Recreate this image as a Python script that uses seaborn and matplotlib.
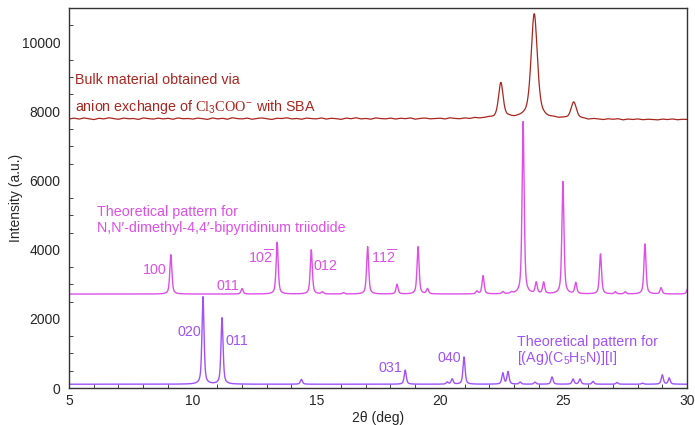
import numpy as np
import pandas as pd
import matplotlib
matplotlib.use("Agg")
import matplotlib.pyplot as plt
import seaborn as sns
from matplotlib.ticker import MultipleLocator

# %% data
# bulk sample: baseline read every 0.2 deg, peaks (pos, height, fwhm)
bulk_base_x = np.linspace(5.0, 30.0, 126)
bulk_base_y = [7790, 7815, 7785, 7820, 7795, 7770, 7810, 7790, 7825, 7800,
               7780, 7815, 7795, 7805, 7775, 7820, 7800, 7785, 7815, 7790,
               7810, 7780, 7820, 7795, 7805,
               7785, 7815, 7800, 7775, 7820, 7790, 7810, 7780, 7825, 7800,
               7790, 7815, 7780, 7805, 7820, 7795, 7775, 7810, 7800, 7825,
               7790, 7805, 7780, 7815, 7800,
               7790, 7820, 7785, 7810, 7800, 7775, 7815, 7795, 7825, 7790,
               7805, 7780, 7820, 7800, 7790, 7815, 7785, 7810, 7795, 7820,
               7780, 7805, 7815, 7790, 7800,
               7810, 7785, 7820, 7800, 7790, 7815, 7795, 7825, 7805, 7815,
               7830, 7810, 7835, 7820, 7840, 7815, 7830, 7845, 7820, 7835,
               7810, 7825, 7800, 7815, 7795,
               7805, 7790, 7815, 7780, 7800, 7770, 7795, 7785, 7765, 7790,
               7775, 7795, 7760, 7785, 7770, 7790, 7765, 7780, 7775, 7760,
               7785, 7770, 7790, 7765, 7780,
               7775]
bulk_pos = [22.47, 23.82, 25.42]
bulk_h = [1000, 3000, 460]
bulk_w = [0.22, 0.30, 0.26]

# N,N'-dimethyl-4,4'-bipyridinium triiodide (simulated)
dmbp_base = 2720
dmbp_pos = [9.12, 12.0, 13.42, 14.8, 15.25, 16.1, 17.08, 18.27, 19.12, 19.5,
            21.5, 21.75, 22.55, 22.9, 23.37, 23.9, 24.2, 24.98, 25.5, 26.5,
            27.1, 27.5, 28.3, 28.95, 30.05]
dmbp_h = [1140, 160, 1500, 1280, 60, 40, 1370, 280, 1370, 150,
          80, 530, 60, 40, 4990, 320, 330, 3250, 320, 1160,
          60, 60, 1450, 180, 260]

# [(Ag)(C5H5N)][I] (simulated)
ag_base = 110
ag_pos = [10.42, 11.19, 14.4, 18.6, 20.3, 20.5, 20.98, 22.55, 22.76, 23.25,
          23.85, 24.54, 25.39, 25.67, 26.2, 27.17, 28.2, 29.0, 29.28]
ag_h = [2530, 1920, 140, 410, 60, 150, 790, 320, 360, 60,
        60, 210, 150, 150, 80, 50, 30, 270, 180]

c_bulk = "#A8261F"
c_dmbp = "#DE4FE8"
c_ag = "#A052F8"


def pv(x, pos, h, w, eta):
    # pseudo-voigt peak shape
    g = np.exp(-4 * np.log(2) * (x - pos) ** 2 / w ** 2)
    l = 1 / (1 + 4 * (x - pos) ** 2 / w ** 2)
    return h * (eta * l + (1 - eta) * g)


x = np.linspace(5, 30, 5001)
y_bulk = np.interp(x, bulk_base_x, bulk_base_y)
for p, h, w in zip(bulk_pos, bulk_h, bulk_w):
    y_bulk = y_bulk + pv(x, p, h, w, 0.5)
y_dmbp = np.full_like(x, dmbp_base, dtype=float)
for p, h in zip(dmbp_pos, dmbp_h):
    y_dmbp = y_dmbp + pv(x, p, h, 0.1, 0.6)
y_ag = np.full_like(x, ag_base, dtype=float)
for p, h in zip(ag_pos, ag_h):
    y_ag = y_ag + pv(x, p, h, 0.1, 0.6)

veri = pd.DataFrame({"x": x, "bulk": y_bulk, "dmbp": y_dmbp, "ag": y_ag})

# %% figure
sns.set_style("white")
plt.rcParams["font.family"] = ["Liberation Sans", "DejaVu Sans"]
plt.rcParams["mathtext.fontset"] = "custom"
plt.rcParams["mathtext.rm"] = "Liberation Sans"
plt.rcParams["mathtext.it"] = "Liberation Serif"
plt.rcParams["font.size"] = 10

fig = plt.figure(figsize=(6.95, 4.25), dpi=100)
ax = fig.add_axes([0.0993, 0.087, 0.8892, 0.894])

sns.lineplot(data=veri, x="x", y="ag", color=c_ag, linewidth=1, ax=ax, errorbar=None)
sns.lineplot(data=veri, x="x", y="dmbp", color=c_dmbp, linewidth=1, ax=ax, errorbar=None)
sns.lineplot(data=veri, x="x", y="bulk", color=c_bulk, linewidth=0.9, ax=ax, errorbar=None)

ax.set_xlim(5, 30)
ax.set_ylim(0, 11000)
ax.xaxis.set_major_locator(MultipleLocator(5))
ax.xaxis.set_minor_locator(MultipleLocator(1))
ax.yaxis.set_major_locator(MultipleLocator(2000))
ax.yaxis.set_minor_locator(MultipleLocator(500))
ax.tick_params(axis="x", which="major", direction="inout", length=5, width=0.8, labelsize=10, pad=2)
ax.tick_params(axis="y", which="major", direction="out", length=4, width=0.8, labelsize=10, pad=2)
ax.tick_params(which="minor", direction="in", length=3, width=0.6, bottom=True, left=True)
for s in ax.spines.values():
    s.set_color("#333333")
    s.set_linewidth(1)

ax.set_xlabel("2θ (deg)", fontsize=10, labelpad=2)
ax.set_ylabel("Intensity (a.u.)", fontsize=10, labelpad=-1)

# annotations
fs = 10.3
ax.text(5.25, 8930, "Bulk material obtained via", color=c_bulk, va="center", fontsize=fs)
ax.text(5.25, 8150, r"anion exchange of $\mathit{Cl_3COO^{-}}$ with SBA", color=c_bulk,
        va="center", fontsize=fs)

ax.text(6.13, 5100, "Theoretical pattern for", color=c_dmbp, va="center", fontsize=fs)
ax.text(6.13, 4640, "N,N\u2032-dimethyl-4,4\u2032-bipyridinium triiodide", color=c_dmbp,
        va="center", fontsize=fs)
ax.text(8.95, 3420, "100", color=c_dmbp, ha="right", va="center", fontsize=fs)
ax.text(11.88, 2960, "011", color=c_dmbp, ha="right", va="center", fontsize=fs)
ax.text(13.3, 3770, r"10$\overline{2}$", color=c_dmbp, ha="right", va="center", fontsize=fs)
ax.text(14.88, 3540, "012", color=c_dmbp, ha="left", va="center", fontsize=fs)
ax.text(17.2, 3770, r"11$\overline{2}$", color=c_dmbp, ha="left", va="center", fontsize=fs)

ax.text(10.35, 1620, "020", color=c_ag, ha="right", va="center", fontsize=fs)
ax.text(11.33, 1360, "011", color=c_ag, ha="left", va="center", fontsize=fs)
ax.text(18.47, 580, "031", color=c_ag, ha="right", va="center", fontsize=fs)
ax.text(20.86, 870, "040", color=c_ag, ha="right", va="center", fontsize=fs)
ax.text(23.12, 1330, "Theoretical pattern for", color=c_ag, va="center", fontsize=fs)
ax.text(23.12, 880, r"[(Ag)(C$_5$H$_5$N)][I]", color=c_ag, va="center", fontsize=fs)

fig.savefig("out.png", dpi=100)
